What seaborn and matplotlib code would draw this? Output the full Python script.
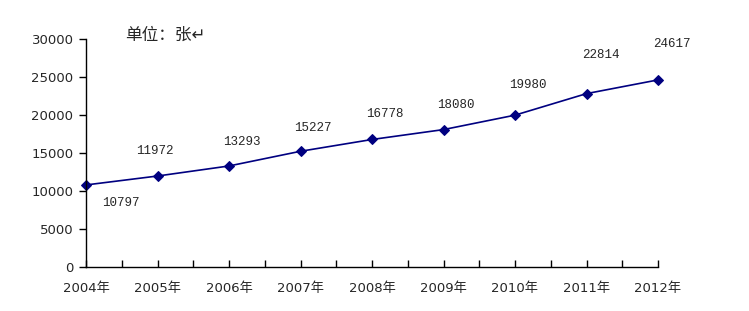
import matplotlib
matplotlib.use("Agg")
import matplotlib.pyplot as plt
import seaborn as sns
import pandas as pd
from matplotlib.ticker import MultipleLocator

years = [2004, 2005, 2006, 2007, 2008, 2009, 2010, 2011, 2012]
values = [10797, 11972, 13293, 15227, 16778, 18080, 19980, 22814, 24617]
year_labels = [f"{y}年" for y in years]
unit_text = "单位：张↵"

sns.set_theme(style="white")
plt.rcParams['font.family'] = ['DejaVu Sans', 'Noto Sans CJK SC']

df = pd.DataFrame({"year": years, "value": values})

fig = plt.figure(figsize=(7.49, 3.11), dpi=100)
ax = fig.add_axes([86/749, 44/311, (658-86)/749, (267-39)/311])

sns.lineplot(data=df, x="year", y="value", ax=ax, color="#000080", linewidth=1.2,
             marker="D", markersize=5.5, markeredgecolor="#000080", markerfacecolor="#000080",
             clip_on=False)

ax.set_xlim(2004, 2012)
ax.set_ylim(0, 30000)
ax.set_xticks(years)
ax.set_xticklabels(year_labels, fontsize=9.5, family=['DejaVu Sans', 'Noto Sans CJK SC'])
ax.xaxis.set_minor_locator(MultipleLocator(0.5))
ax.set_yticks(range(0, 30001, 5000))
ax.set_yticklabels([str(v) for v in range(0, 30001, 5000)], fontsize=9.5)
ax.set_xlabel("")
ax.set_ylabel("")

for s in ["top", "right"]:
    ax.spines[s].set_visible(False)
for s in ["left", "bottom"]:
    ax.spines[s].set_color("black")
    ax.spines[s].set_linewidth(1.0)

ax.tick_params(axis="x", which="both", direction="in", length=5, width=1, color="black", pad=11)
ax.tick_params(axis="y", which="major", direction="out", length=5, width=1, color="black", left=True, pad=4)
ax.tick_params(axis="x", which="major", bottom=True)
ax.tick_params(axis="x", which="minor", bottom=True)

# label offsets in points (dx, dy)
offsets = [(25, -13), (-2, 18), (9, 17), (9, 17), (9, 18), (9, 18), (9, 22), (10, 28), (10, 26)]
for x, y, (dx, dy) in zip(years, values, offsets):
    ax.annotate(f"{y}", xy=(x, y), xytext=(dx, dy), textcoords="offset points",
                ha="center", va="center", fontsize=9, family=['Liberation Mono', 'DejaVu Sans Mono'],
                annotation_clip=False)

fig.text(125/749, 1 - 35/311, unit_text, fontsize=12, ha="left", va="center",
         family=['Noto Sans CJK SC', 'DejaVu Sans'])

fig.savefig("out.png", dpi=100)
